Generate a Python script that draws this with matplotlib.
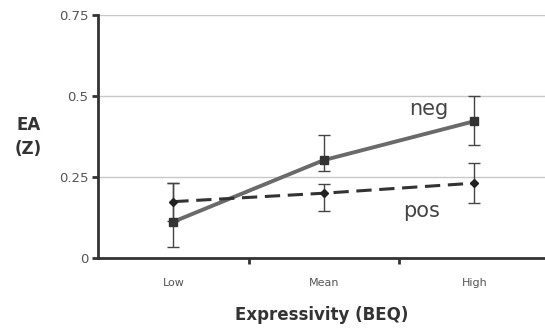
import numpy as np
import matplotlib.pyplot as plt

categories = ['Low', 'Mean', 'High']
neg_vals = [0.112, 0.302, 0.422]
neg_err_low = [0.077, 0.035, 0.074]
neg_err_high = [0.12, 0.078, 0.078]
pos_vals = [0.174, 0.20, 0.231]
pos_err_low = [0.06, 0.056, 0.06]
pos_err_high = [0.058, 0.027, 0.062]
yticks = [0, 0.25, 0.5, 0.75]
ytick_labels = ['0', '0.25', '0.5', '0.75']

fig = plt.figure(figsize=(5.45, 3.3), dpi=100)
ax = fig.add_axes([0.18, 0.218, 0.82, 0.737])

x = np.arange(len(categories)) + 0.5

ax.errorbar(x, neg_vals, yerr=[neg_err_low, neg_err_high], color='#6a6a6a', lw=2.8,
            marker='s', ms=6, mfc='#333333', mec='#333333',
            ecolor='#444444', elinewidth=1, capsize=4, capthick=1, zorder=3)
ax.errorbar(x, pos_vals, yerr=[pos_err_low, pos_err_high], color='#333333', lw=2.2,
            ls=(0, (5, 2.5)), marker='D', ms=4, mfc='#222222', mec='#222222',
            ecolor='#444444', elinewidth=1, capsize=4, capthick=1, zorder=3)

ax.text(2.2, 0.46, 'neg', fontsize=15, color='#444444', ha='center', va='center')
ax.text(2.15, 0.145, 'pos', fontsize=15, color='#444444', ha='center', va='center')

ax.set_xlim(0, 2.97)
ax.set_ylim(0, 0.75)
ax.set_yticks(yticks)
ax.set_yticklabels(ytick_labels, fontsize=9.5, color='#555555')
ax.set_xticks(x)
ax.set_xticklabels(categories, fontsize=8, color='#555555')
ax.tick_params(axis='x', length=0, pad=14)
ax.set_xticks([1, 2], minor=True)
ax.tick_params(axis='x', which='minor', length=4, width=2, color='#333333')
ax.tick_params(axis='y', length=4, width=2, color='#333333', pad=3)

ax.yaxis.grid(True, color='#c8c8c8', lw=1)
ax.set_axisbelow(True)
for s in ['top', 'right']:
    ax.spines[s].set_visible(False)
for s in ['left', 'bottom']:
    ax.spines[s].set_linewidth(2)
    ax.spines[s].set_color('#333333')

ax.set_xlabel('Expressivity (BEQ)', fontsize=12, fontweight='bold', color='#333333', labelpad=13)
fig.text(0.052, 0.585, 'EA\n(Z)', fontsize=12, fontweight='bold', color='#333333',
         ha='center', va='center', linespacing=1.4)

fig.savefig('out.png', dpi=100)
